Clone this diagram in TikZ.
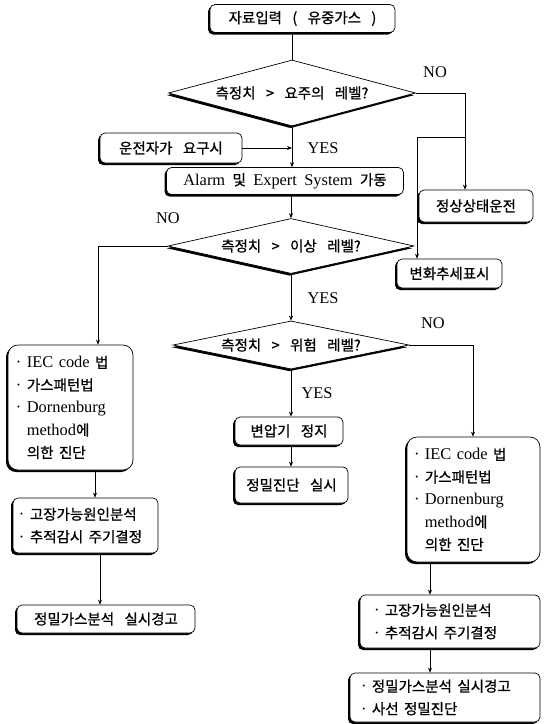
\documentclass[tikz,border=0pt]{standalone}
\usepackage{fontspec}
\setmainfont{Liberation Serif}[Scale=1.13,WordSpace=1.8]
\newfontfamily\lat{Liberation Serif}[Scale=1.13,WordSpace=1.8]
\newfontfamily\kr{Noto Sans CJK KR}[WordSpace=3.2,FakeBold=0.8]
\usetikzlibrary{shapes.geometric,arrows.meta,shadows}
\begin{document}
\begin{tikzpicture}[x=1pt,y=-1pt,
 every node/.style={inner sep=0pt},
 box/.style={draw, line width=0.7pt, fill=white, rounded corners=5pt, align=left,
   font=\fontsize{14.5}{22.5}\selectfont,
   drop shadow={shadow xshift=-2pt, shadow yshift=-2pt, fill=black, opacity=1}},
 bigbox/.style={box, rounded corners=10pt},
 dia/.style={draw, diamond, aspect=4, line width=0.7pt, fill=white,
   font=\fontsize{14.5}{16}\selectfont,
   drop shadow={shadow xshift=-1.5pt, shadow yshift=-2.2pt, fill=black, opacity=1}},
 arr/.style={line width=0.6pt, -{Stealth[length=5pt,width=4pt]}},
 ln/.style={line width=0.6pt},
 lbl/.style={font=\fontsize{14.5}{15}\selectfont\lat}
]
\useasboundingbox[fill=white] (0,0) rectangle (545,724);

% nodes
\node[box, minimum width=185pt, minimum height=28pt] (top) at (302.5,18.5) {\kr 자료입력 ( 유중가스 )};
\node[dia, minimum width=247pt, minimum height=66pt] (d1) at (292,93) {\kr 측정치 > 요주의 레벨?};
\node[box, minimum width=142pt, minimum height=30pt] (op) at (171,148) {\kr 운전자가 요구시};
\node[box, minimum width=237pt, minimum height=27pt] (alarm) at (285,181) {{\lat Alarm} {\kr 및} {\lat Expert System} {\kr 가동}};
\node[box, minimum width=114pt, minimum height=32pt] (normal) at (476,206) {\kr 정상상태운전};
\node[box, minimum width=105pt, minimum height=29pt] (trend) at (449.5,273.5) {\kr 변화추세표시};
\node[dia, minimum width=246pt, minimum height=55pt] (d2) at (291,246) {\kr 측정치 > 이상 레벨?};
\node[dia, minimum width=236pt, minimum height=45pt] (d3) at (291,345) {\kr 측정치 > 위험 레벨?};
\node[box, minimum width=108pt, minimum height=28pt] (stop) at (289,431) {\kr 변압기 정지};
\node[box, minimum width=113pt, minimum height=36pt] (prec) at (291.5,485) {\kr 정밀진단 실시};

\node[bigbox, minimum height=125pt, text width=109pt, inner xsep=8pt] (l1) at (70.5,407.5)
 {{\lat ·\ IEC code} {\kr 법}\\ {\lat ·\ }{\kr 가스패턴법}\\ {\lat ·\ Dornenburg}\\ {\lat\phantom{·\ }method}{\kr 에}\\ {\lat\phantom{·\ }}{\kr 의한 진단}};
\node[box, minimum height=55pt, text width=133pt, inner xsep=6pt] (l2) at (85.5,525.5)
 {{\lat ·\ }{\kr 고장가능원인분석}\\ {\lat ·\ }{\kr 추적감시 주기결정}};
\node[box, minimum width=178pt, minimum height=28pt] (l3) at (106,619) {\kr 정밀가스분석 실시경고};

\node[bigbox, minimum height=125pt, text width=119pt, inner xsep=7pt] (r1) at (473.5,499.5)
 {{\lat ·\ IEC code} {\kr 법}\\ {\lat ·\ }{\kr 가스패턴법}\\ {\lat ·\ Dornenburg}\\ {\lat\phantom{·\ }method}{\kr 에}\\ {\lat\phantom{·\ }}{\kr 의한 진단}};
\node[box, minimum height=53pt, text width=152pt, inner xsep=14pt] (r2) at (450,621.5)
 {{\lat ·\ }{\kr 고장가능원인분석}\\ {\lat ·\ }{\kr 추적감시 주기결정}};
\node[box, minimum height=49pt, text width=168pt, inner xsep=11pt] (r3) at (445,697.5)
 {{\lat ·\ }{\kr 정밀가스분석 실시경고}\\ {\lat ·\ }{\kr 사선 정밀진단}};

% labels
\node[lbl] (no1) at (435,72) {NO};
\node[lbl] (yes1) at (323,148) {YES};
\node[lbl] (no2) at (168,218) {NO};
\node[lbl] (yes2) at (323,298) {YES};
\node[lbl] (no3) at (433,323) {NO};
\node[lbl] (yes3) at (317,393) {YES};

% helper coordinates
\coordinate (c1) at (465,0);
\coordinate (c2) at (465,137);
\coordinate (c3) at (417,137);
\coordinate (c4) at (98,0);
\coordinate (c5) at (473,0);
\coordinate (c6) at (95,0);
\coordinate (c7) at (100,0);
\coordinate (c8) at (430,0);

% connectors
\draw[ln] (top.south -| d1.north) -- (d1.north);
\draw[arr] (d1.south) -- (d1.south |- alarm.north);
\draw[arr] (op.east) -- (op.east -| d1.south);
\draw[arr] (alarm.south -| d2.north) -- (d2.north);
\draw[arr] (d1.east) -| (c1 |- normal.north);
\draw[arr] (c2) -- (c3) -- (c3 |- trend.north);
\draw[arr] (d2.west) -| (c4 |- l1.north);
\draw[arr] (d2.south) -- (d3.north);
\draw[arr] (d3.east) -| (c5 |- r1.north);
\draw[arr] (d3.south) -- (d3.south |- stop.north);
\draw[arr] (stop.south -| d3.south) -- (prec.north -| d3.south);
\draw[arr] (c6 |- l1.south) -- (c6 |- l2.north);
\draw[arr] (c7 |- l2.south) -- (c7 |- l3.north);
\draw[arr] (c8 |- r1.south) -- (c8 |- r2.north);
\draw[arr] (c8 |- r2.south) -- (c8 |- r3.north);
\end{tikzpicture}
\end{document}
